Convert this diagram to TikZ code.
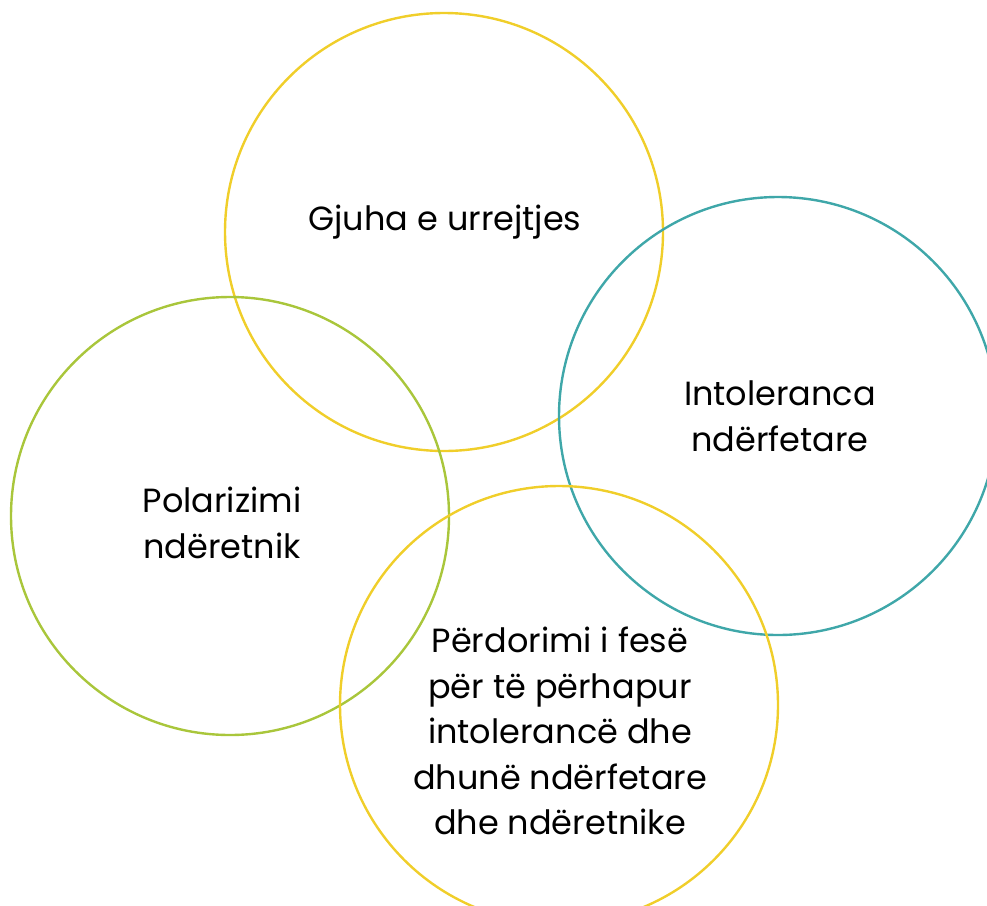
\documentclass[tikz,border=0pt]{standalone}
\usepackage{fontspec}
\setmainfont{Poppins}
\definecolor{geel}{HTML}{F0CE2A}
\definecolor{groen}{HTML}{A9C63B}
\definecolor{blauw}{HTML}{3FA7A9}
\tikzset{
  cirkel/.style={draw, circle, line width=2.4pt, minimum size=438pt, inner sep=0pt},
  tekst/.style={align=center, font=\fontsize{33.5}{45.5}\selectfont}
}
\begin{document}
\begin{tikzpicture}[x=1pt,y=-1pt]
\useasboundingbox (0,0) rectangle (987,905);
\node[cirkel, geel] (haat) at (444,232) {};
\node[cirkel, blauw] (intol) at (778,416) {};
\node[cirkel, groen] (polar) at (230,516) {};
\node[cirkel, geel] (geloof) at (559,705) {};
\node[tekst] (thaat) at (445,222) {Gjuha e urrejtjes};
\node[tekst] (tintol) at (780,416) {Intoleranca\\ndërfetare};
\node[tekst] (tpolar) at (222,523) {Polarizimi\\ndëretnik};
\node[tekst] (tgeloof) at (560,731) {Përdorimi i fesë\\për të përhapur\\intolerancë dhe\\dhunë ndërfetare\\dhe ndëretnike};
\end{tikzpicture}
\end{document}
